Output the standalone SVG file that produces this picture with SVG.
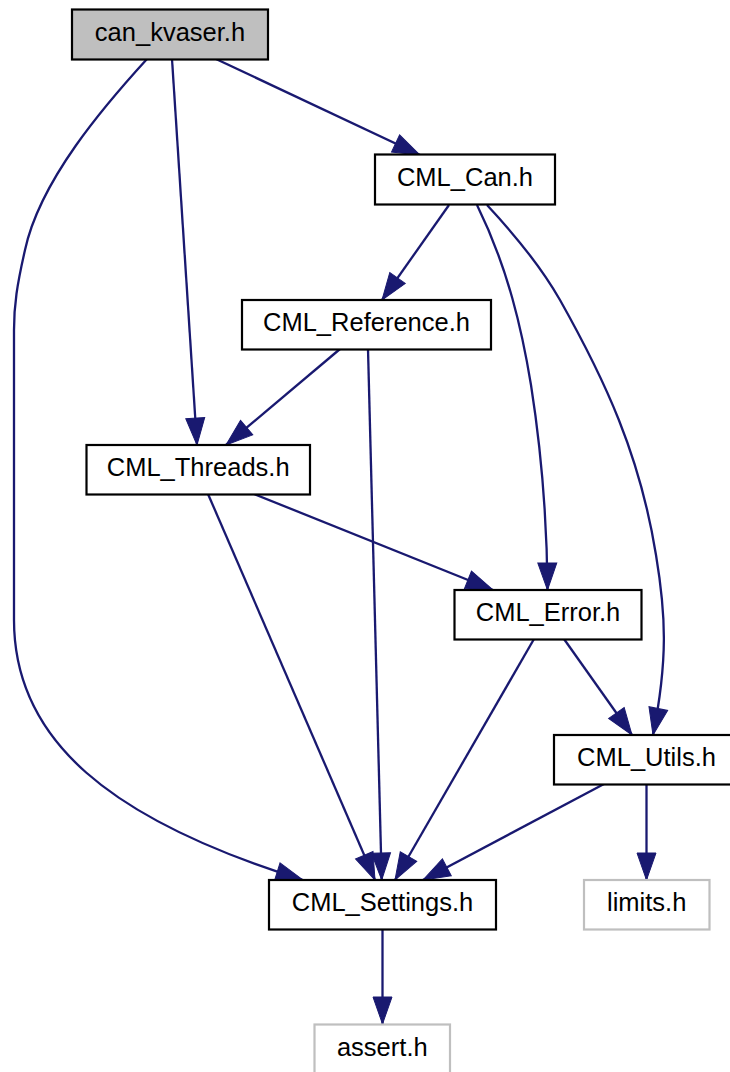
<svg xmlns="http://www.w3.org/2000/svg" width="730" height="1072" viewBox="0 0 730 1072">
  <defs>
    <marker id="arrow" markerUnits="userSpaceOnUse" markerWidth="28" markerHeight="20" refX="27" refY="9.5" orient="auto" overflow="visible">
      <path d="M0,0 L27,9.5 L0,19 Z" fill="#191970" stroke="#191970" stroke-width="1"/>
    </marker>
  </defs>
  <style>
    .node rect { fill: #ffffff; stroke: #000000; stroke-width: 2.2; }
    .node.root rect { fill: #bfbfbf; }
    .node.ext rect { stroke: #bfbfbf; }
    .node text { font-family: "Liberation Sans", Arial, sans-serif; font-size: 25.5px; fill: #000000; text-anchor: middle; }
    .edges path { fill: none; stroke: #191970; stroke-width: 2.3; marker-end: url(#arrow); }
  </style>
  <rect x="0" y="0" width="730" height="1072" fill="#ffffff"/>
  <g class="edges">
    <path d="M216,59 L420,155"/>
    <path d="M172,59 L197,445"/>
    <path d="M147,59 C105,105 40,180 25,250 C17,285 14,305 14,330 L14,620 C14,740 110,820 303,880"/>
    <path d="M449,205 L382,300"/>
    <path d="M477,205 C508,268 522,330 531,385 C542,455 547,520 547.5,590"/>
    <path d="M487,205 C515,235 540,265 560,300 C605,380 640,455 656,555 C666,615 668,660 653,735"/>
    <path d="M340,349 L226,445"/>
    <path d="M368,349 L381.7,880"/>
    <path d="M208,494 L375,880"/>
    <path d="M254,494 L493,590"/>
    <path d="M534,639 L395,880"/>
    <path d="M564,639 L632,735"/>
    <path d="M604,784 L423,880"/>
    <path d="M646.5,784 L646.5,880"/>
    <path d="M382.5,929 L382.5,1024"/>
  </g>
  <g id="node-can_kvaser" class="node root">
    <rect x="72" y="9.5" width="196" height="50"/>
    <text x="170" y="41">can_kvaser.h</text>
  </g>
  <g id="node-CML_Can" class="node">
    <rect x="375" y="154.5" width="180" height="50"/>
    <text x="465" y="186">CML_Can.h</text>
  </g>
  <g id="node-CML_Reference" class="node">
    <rect x="242" y="300" width="249" height="49.5"/>
    <text x="366.5" y="331">CML_Reference.h</text>
  </g>
  <g id="node-CML_Threads" class="node">
    <rect x="86.5" y="445" width="223.5" height="49.5"/>
    <text x="198.2" y="476">CML_Threads.h</text>
  </g>
  <g id="node-CML_Error" class="node">
    <rect x="454.5" y="590" width="187" height="49.5"/>
    <text x="548" y="621">CML_Error.h</text>
  </g>
  <g id="node-CML_Utils" class="node">
    <rect x="554" y="735" width="185" height="49.5"/>
    <text x="646.5" y="766">CML_Utils.h</text>
  </g>
  <g id="node-CML_Settings" class="node">
    <rect x="269" y="880" width="227" height="49.5"/>
    <text x="382.5" y="911">CML_Settings.h</text>
  </g>
  <g id="node-limits" class="node ext">
    <rect x="584" y="880" width="125.5" height="49.5"/>
    <text x="646.7" y="911">limits.h</text>
  </g>
  <g id="node-assert" class="node ext">
    <rect x="314.5" y="1024.5" width="135.5" height="50"/>
    <text x="382.3" y="1056">assert.h</text>
  </g>
</svg>
